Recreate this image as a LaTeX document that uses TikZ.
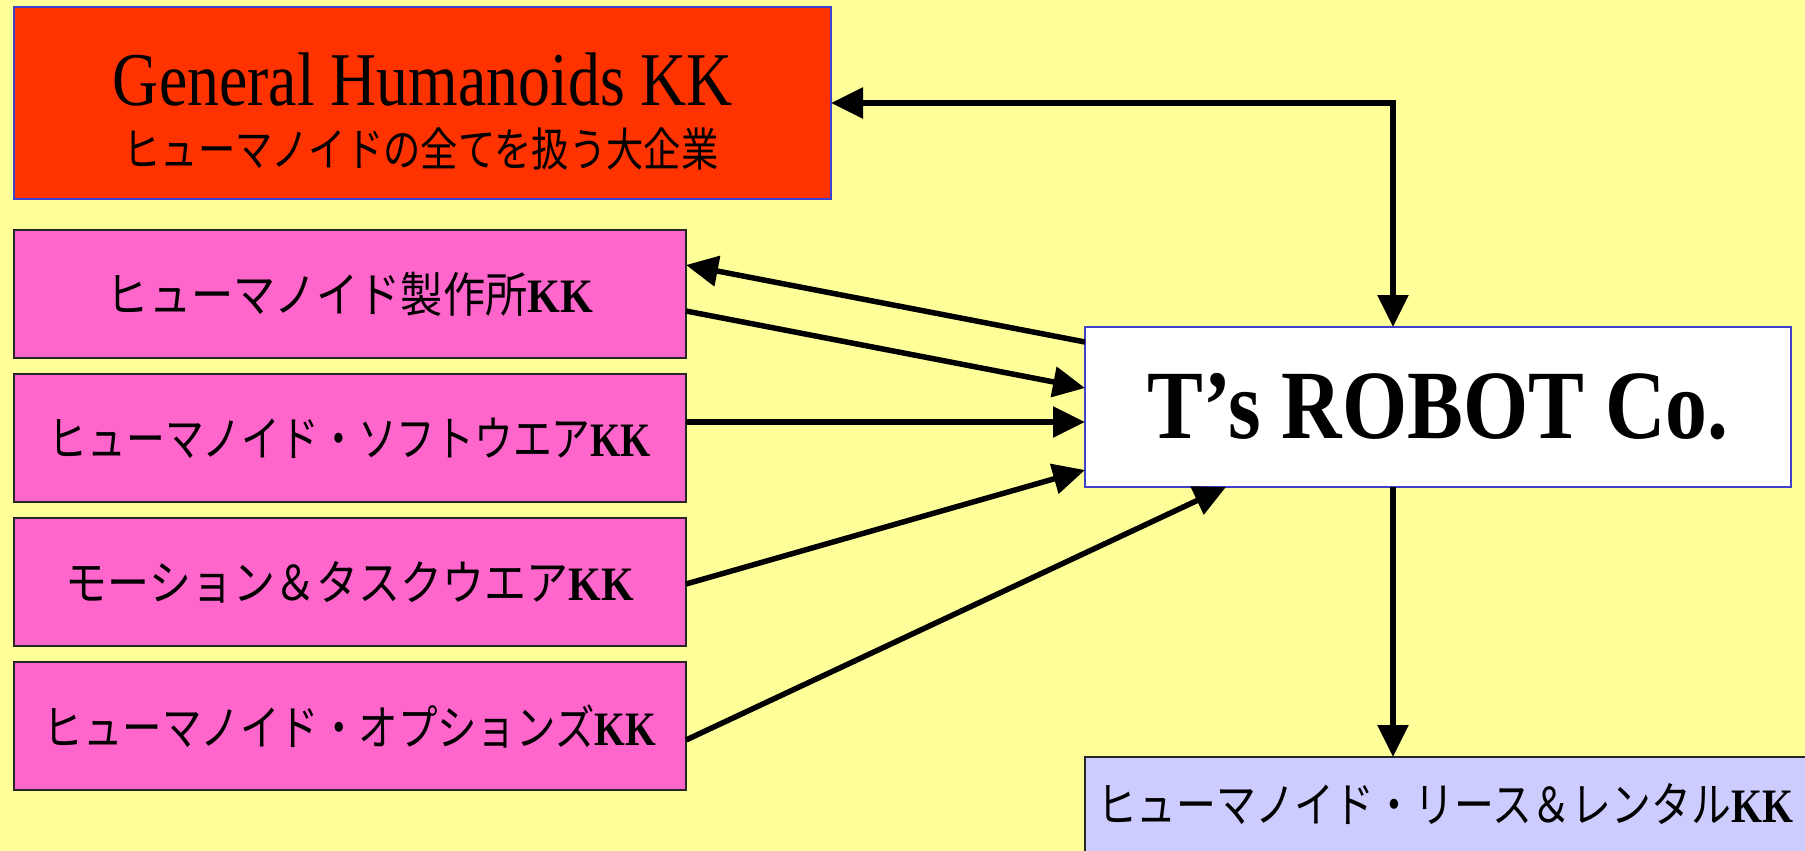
\documentclass[tikz,border=0pt]{standalone}
\usepackage{fontspec}
\usepackage{graphicx}
\setmainfont{Liberation Serif}
\newfontfamily\jp{Noto Sans CJK JP}
\usetikzlibrary{arrows.meta}
\definecolor{bgyellow}{HTML}{FFFF99}
\definecolor{ghred}{HTML}{FF3300}
\definecolor{kkpink}{HTML}{FF66CC}
\definecolor{lav}{HTML}{CCCCFF}
\definecolor{bordblue}{HTML}{4040CC}
\newcommand{\fitw}[2]{\resizebox{#1}{\height}{#2}}
\begin{document}
\begin{tikzpicture}[x=1pt,y=-1pt,
  box/.style={line width=2pt, inner sep=0pt, outer sep=0pt},
  pinkbox/.style={box, fill=kkpink, draw=black!85, minimum width=672pt, minimum height=128pt,
    font=\fontsize{48}{52}\selectfont},
  conn/.style={line width=5.5pt, -{Triangle[length=32pt,width=30pt]}},
  dconn/.style={line width=5.5pt, {Triangle[length=32pt,width=30pt]}-{Triangle[length=32pt,width=30pt]}}
]
\useasboundingbox (0,0) rectangle (1805,851);
\clip (0,0) rectangle (1805,851);
\fill[bgyellow] (0,0) rectangle (1805,851);

% boxes
\node[box, fill=ghred, draw=bordblue, minimum width=817pt, minimum height=192pt] (gh) at (422.5,103) {};
\node[anchor=base, inner sep=0pt, font=\fontsize{76}{80}\selectfont] (ghtitle) at (423,106) {\fitw{620pt}{General Humanoids KK}};
\node[anchor=base, inner sep=0pt, font=\fontsize{46}{48}\selectfont] (ghsub) at (421,166) {\fitw{595pt}{\jp ヒューマノイドの全てを扱う大企業}};

\node[pinkbox] (p1) at (350,294) {\fitw{486pt}{{\jp ヒューマノイド製作所}\textbf{KK}}};
\node[pinkbox] (p2) at (350,438) {\fitw{602pt}{{\jp ヒューマノイド・ソフトウエア}\textbf{KK}}};
\node[pinkbox] (p3) at (350,582) {\fitw{568pt}{{\jp モーション＆タスクウエア}\textbf{KK}}};
\node[pinkbox] (p4) at (350,726) {\fitw{612pt}{{\jp ヒューマノイド・オプションズ}\textbf{KK}}};

\node[box, fill=white, draw=bordblue, minimum width=706pt, minimum height=160pt,
  font=\fontsize{98}{100}\selectfont\bfseries] (ts) at (1438,407) {\fitw{581pt}{T’s ROBOT Co.}};

\node[box, fill=lav, draw=black!85, anchor=north west, minimum width=800pt, minimum height=150pt] (lease) at (1085,757) {};
\node[inner sep=0pt, font=\fontsize{48}{50}\selectfont] (leaset) at (1445,804) {\fitw{696pt}{{\jp ヒューマノイド・リース＆レンタル}\textbf{KK}}};

% connectors
\draw[dconn] (gh.east) -| ([xshift=-45pt]ts.north);
\draw[conn] ([yshift=-15pt]ts.north west) -- ([yshift=29pt]p1.east);
\draw[conn] ([yshift=-17pt]p1.east) -- ([yshift=19pt]ts.west);
\draw[conn] ([yshift=16pt]p2.east) -- ([yshift=16pt]p2.east -| ts.west);
\draw[conn] ([yshift=-2pt]p3.east) -- ([yshift=-63pt]ts.west);
\draw[conn] ([yshift=-14pt]p4.east) -- ([xshift=-212pt]ts.south);
\draw[conn] ([xshift=-45pt]ts.south) -- ([xshift=-45pt]ts.south |- lease.north);
\end{tikzpicture}
\end{document}
